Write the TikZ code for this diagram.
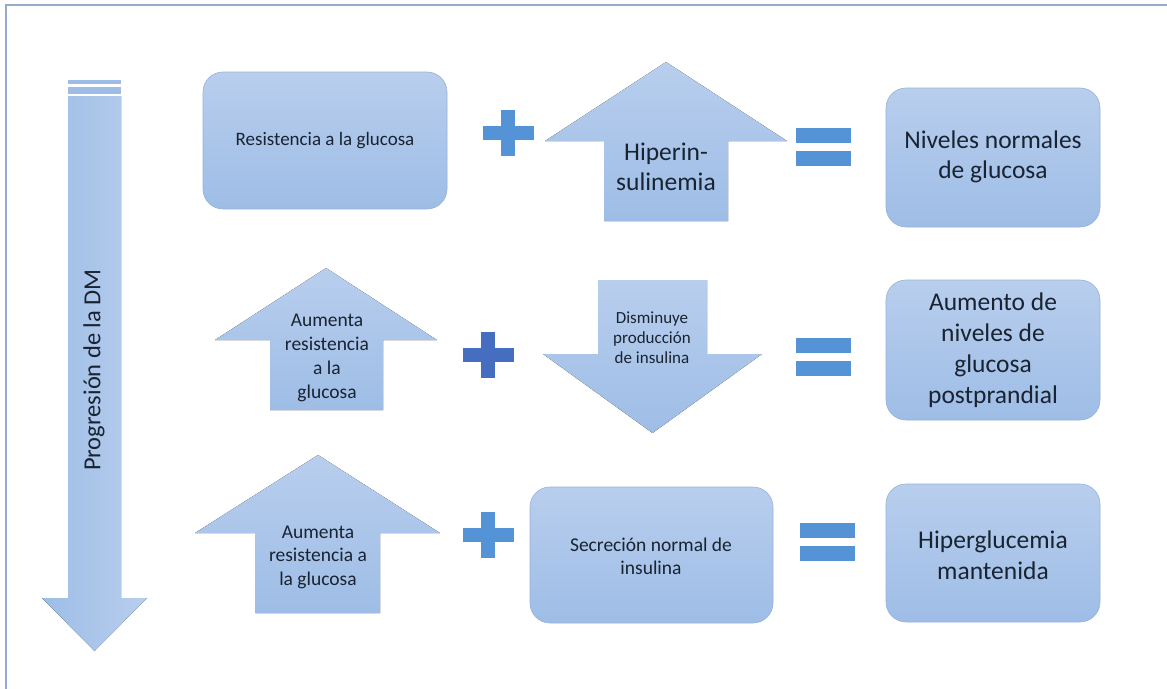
\documentclass[tikz,border=0pt]{standalone}
\usepackage{fontspec}
\setmainfont{Carlito}
\definecolor{fillTop}{RGB}{184,206,237}
\definecolor{fillBot}{RGB}{158,189,230}
\definecolor{shapeEdge}{RGB}{150,178,218}
\definecolor{symA}{RGB}{84,148,214}
\definecolor{symB}{RGB}{70,110,192}
\definecolor{frameC}{RGB}{150,170,205}
\definecolor{txt}{RGB}{25,35,50}
\tikzset{
  blueshape/.style={top color=fillTop, bottom color=fillBot, draw=shapeEdge, line width=0.6pt},
  arrowshape/.style={top color=fillTop, bottom color=fillBot, draw=none},
  roundbox/.style={blueshape, rounded corners=20pt},
  lbl/.style={text=txt, align=center, inner sep=0pt},
  sym/.style={fill=symA, draw=none},
}
\newcommand{\plussign}[3]{%
  \fill[#3] (#1-25.5,#2-7) rectangle (#1+25.5,#2+7);
  \fill[#3] (#1-7,#2-23) rectangle (#1+7,#2+23);}
\newcommand{\equalsign}[3]{%
  \fill[#3] (#1,#2) rectangle (#1+55,#2+15);
  \fill[#3] (#1,#2+23) rectangle (#1+55,#2+38);}
\begin{document}
\begin{tikzpicture}[x=1pt,y=-1pt]
\useasboundingbox (0,0) rectangle (1167,688);
\fill[white] (0,0) rectangle (1167,688);
% frame
\draw[frameC, line width=1.5pt] (6,700) -- (6,5) -- (1180,5);

% left progression arrow
\fill[fillBot] (68,80) rectangle (121,84);
\fill[fillBot] (68,87) rectangle (121,94);
\fill[left color=fillBot, right color=fillTop] (68,96) -- (121,96) -- (121,598) -- (147,598) -- (94.5,651) -- (42,598) -- (68,598) -- cycle;
\node[lbl, rotate=90, font=\fontsize{24.5}{28}\selectfont] (prog) at (94,370) {Progresión de la DM};

% ---- Row 1
\draw[roundbox] (203,72) rectangle (447,209);
\node[lbl, font=\fontsize{19}{22}\selectfont] (r1a) at (325,141) {Resistencia a la glucosa};
\plussign{508}{133}{sym}
\fill[arrowshape] (666,62) -- (787,141) -- (728,141) -- (728,221) -- (604,221) -- (604,141) -- (545,141) -- cycle;
\node[lbl, font=\fontsize{25.5}{30}\selectfont] (r1b) at (666,167) {Hiperin-\\sulinemia};
\equalsign{796}{128}{sym}
\draw[roundbox] (886,88) rectangle (1100,227);
\node[lbl, font=\fontsize{25.5}{29.5}\selectfont] (r1c) at (993,157) {Niveles normales\\de glucosa};

% ---- Row 2
\fill[arrowshape] (326,268) -- (437,340) -- (383,340) -- (383,410) -- (270,410) -- (270,340) -- (215,340) -- cycle;
\node[lbl, font=\fontsize{19.5}{24}\selectfont] (r2a) at (327,358) {Aumenta\\resistencia\\a la\\glucosa};
\plussign{488}{355}{fill=symB}
\fill[arrowshape] (598,280) -- (707,280) -- (707,354) -- (762,354) -- (652.5,433) -- (543,354) -- (598,354) -- cycle;
\node[lbl, font=\fontsize{17}{19.8}\selectfont] (r2b) at (652,338) {Disminuye\\producción\\de insulina};
\equalsign{796}{338}{sym}
\draw[roundbox] (886,280) rectangle (1100,420);
\node[lbl, font=\fontsize{25.5}{31}\selectfont] (r2c) at (993,350) {Aumento de\\niveles de\\glucosa\\postprandial};

% ---- Row 3
\fill[arrowshape] (318,455) -- (440,533) -- (380,533) -- (380,613) -- (255,613) -- (255,533) -- (195,533) -- cycle;
\node[lbl, font=\fontsize{19.5}{23.5}\selectfont] (r3a) at (318,557) {Aumenta\\resistencia a\\la glucosa};
\plussign{488}{535}{sym}
\draw[roundbox] (530,487) rectangle (773,623);
\node[lbl, font=\fontsize{19.5}{23}\selectfont] (r3b) at (651,556) {Secreción normal de\\insulina};
\equalsign{800}{523}{sym}
\draw[roundbox] (886,484) rectangle (1100,622);
\node[lbl, font=\fontsize{25.5}{31}\selectfont] (r3c) at (993,555) {Hiperglucemia\\mantenida};
\end{tikzpicture}
\end{document}
